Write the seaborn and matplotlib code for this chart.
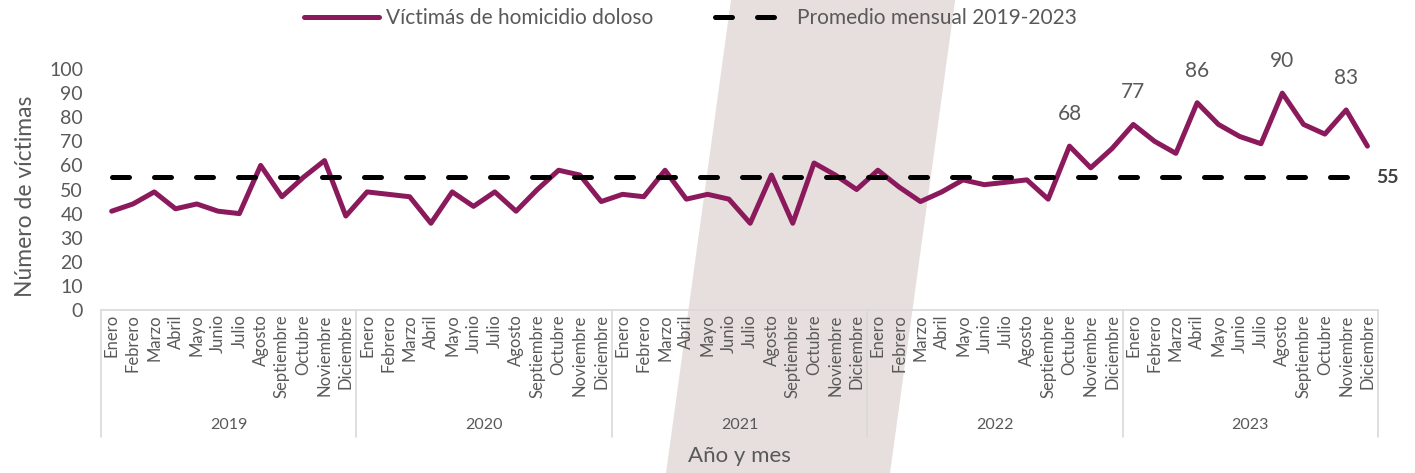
import pandas as pd
import seaborn as sns
import matplotlib.pyplot as plt
from matplotlib.patches import Polygon
import matplotlib.transforms as mtransforms

# datos
meses = ['Enero', 'Febrero', 'Marzo', 'Abril', 'Mayo', 'Junio', 'Julio', 'Agosto',
         'Septiembre', 'Octubre', 'Noviembre', 'Diciembre']
anios = ['2019', '2020', '2021', '2022', '2023']
v2019 = [41, 44, 49, 42, 44, 41, 40, 60, 47, 55, 62, 39]
v2020 = [49, 48, 47, 36, 49, 43, 49, 41, 50, 58, 56, 45]
v2021 = [48, 47, 58, 46, 48, 46, 36, 56, 36, 61, 56, 50]
v2022 = [58, 51, 45, 49, 54, 52, 53, 54, 46, 68, 59, 67]
v2023 = [77, 70, 65, 86, 77, 72, 69, 90, 77, 73, 83, 68]
promedio = 55
etiquetas = [('2022', 'Octubre'), ('2023', 'Enero'), ('2023', 'Abril'),
             ('2023', 'Agosto'), ('2023', 'Noviembre')]

valores = v2019 + v2020 + v2021 + v2022 + v2023
df = pd.DataFrame({
    'anio': [a for a in anios for m in meses],
    'mes': meses * len(anios),
    'victimas': valores,
})
df['pos'] = range(len(df))
df['promedio'] = promedio

sns.set_style("white")
plt.rcParams['font.family'] = ['Lato', 'DejaVu Sans']
gris = '#595959'
morado = '#8B1A5C'

fig = plt.figure(figsize=(14.15, 4.73), dpi=100)
fig.patches.append(Polygon([(0.4707, 0), (0.629, 0), (0.675, 1), (0.5166, 1)],
                           closed=True, transform=fig.transFigure,
                           facecolor='#E7DFDD', edgecolor='none', zorder=-10))
ax = fig.add_axes([0.0714, 0.3446, 0.9025, 0.5095])
ax.set_facecolor('none')

sns.lineplot(data=df, x='pos', y='victimas', ax=ax, color=morado, lw=3.6,
             solid_capstyle='round', solid_joinstyle='round',
             label='Víctimás de homicidio doloso')
sns.lineplot(data=df, x='pos', y='promedio', ax=ax, color='black', lw=3.6,
             dashes=False, label='Promedio mensual 2019-2023')
ax.lines[1].set_dashes((3.4, 5.0))
ax.lines[1].set_dash_capstyle('round')

for a, m in etiquetas:
    fila = df[(df['anio'] == a) & (df['mes'] == m)].iloc[0]
    ax.annotate(str(fila['victimas']), (fila['pos'], fila['victimas']),
                xytext=(0, 32), textcoords='offset pixels', ha='center', va='center',
                fontsize=15, color=gris)
ax.annotate(str(promedio), (df['pos'].iloc[-1], promedio), xytext=(9, 0),
            textcoords='offset pixels', ha='left', va='center',
            fontsize=14, fontweight='bold', color='#404040')

ax.set_xlim(-0.5, len(df) - 0.5)
ax.set_ylim(0, 100)
ax.set_yticks(range(0, 101, 10))
ax.tick_params(axis='y', labelsize=14, labelcolor=gris, pad=13, length=0)
ax.set_xticks(df['pos'])
ax.set_xticklabels(df['mes'], rotation=90, va='top', ha='center')
ax.tick_params(axis='x', labelsize=12, labelcolor=gris, pad=3, length=0)

for s in ['top', 'right', 'left']:
    ax.spines[s].set_visible(False)
ax.spines['bottom'].set_color('#D9D9D9')
ax.spines['bottom'].set_linewidth(1.2)

trans = mtransforms.blended_transform_factory(ax.transData, ax.transAxes)
for i in range(len(anios) + 1):
    ax.plot([i * 12 - 0.5, i * 12 - 0.5], [0, -0.527], transform=trans,
            color='#D9D9D9', lw=1.2, clip_on=False)
for i, a in enumerate(anios):
    ax.text(i * 12 + 5.5, -0.477, a, transform=trans, ha='center', va='center',
            fontsize=11.5, color=gris)

ax.set_xlabel('Año y mes', fontsize=16, color=gris)
ax.xaxis.set_label_coords(0.5, -0.565)
ax.set_ylabel('Número de víctimas', fontsize=16.5, color=gris)
ax.yaxis.set_label_coords(-0.051, 0.47)

ax.get_legend().remove()
h, l = ax.get_legend_handles_labels()
fig.legend(h, l, loc='center', bbox_to_anchor=(0.488, 0.962), ncol=2, frameon=False,
           fontsize=15, labelcolor=gris, handlelength=3.6, columnspacing=3.0,
           handletextpad=0.3)

plt.savefig('out.png', dpi=100)
